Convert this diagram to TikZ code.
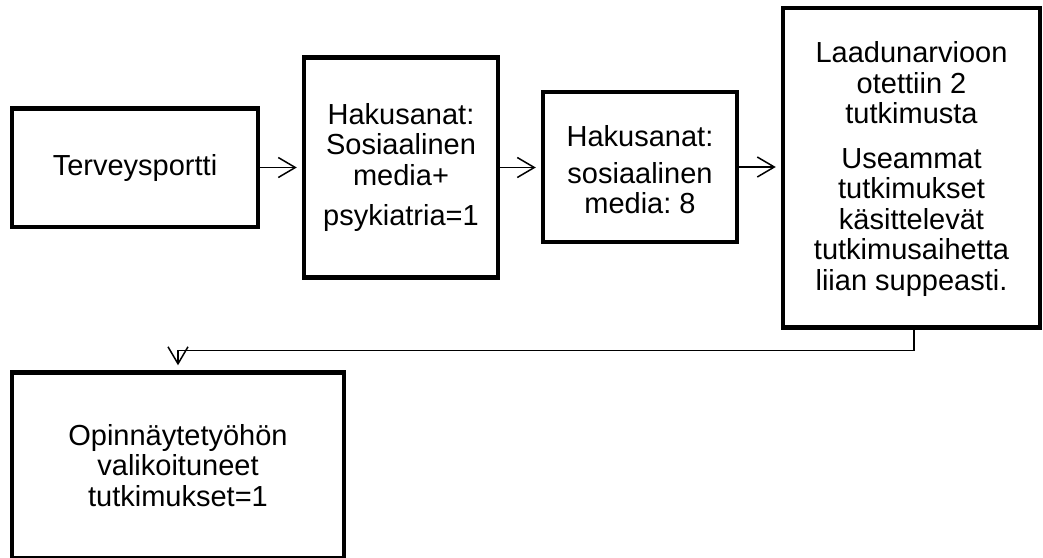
\documentclass[tikz,border=0pt]{standalone}
\usepackage{fontspec}
\setmainfont{Liberation Sans}
\usepackage{tikz}
\usetikzlibrary{calc,arrows.meta}

\begin{document}
\begin{tikzpicture}[x=1pt,y=-1pt,
  box/.style={draw, line width=4.5pt, inner sep=2pt, align=center,
    font=\fontsize{29pt}{30.5pt}\selectfont\frenchspacing},
  flow/.style={-{Straight Barb[length=17pt,width=20pt]}, line width=1.5pt, shorten >=5pt}]

\useasboundingbox (0,0) rectangle (1043,557);

% boxes
\node at (135,167.5) [box, minimum width=246pt, minimum height=118.5pt] (b1) {Terveysportti};
\node at (401,167.5) [box, minimum width=194pt, minimum height=220pt] (b2) {Hakusanat:\\Sosiaalinen\\media+\\[10pt]psykiatria=1};
\node at (640,167) [box, minimum width=194pt, minimum height=150pt] (b3) {\rule{0pt}{27pt}Hakusanat:\\[6pt]sosiaalinen\\media: 8};
\node at (911.5,167.75) [box, minimum width=257pt, minimum height=319.5pt] (b4) {\rule{0pt}{24pt}Laadunarvioon\\otettiin 2\\tutkimusta\\[14pt]Useammat\\tutkimukset\\käsittelevät\\tutkimusaihetta\\liian suppeasti.};
\node at (178,465.5) [box, minimum width=332pt, minimum height=186pt] (b5) {Opinnäytetyöhön\\valikoituneet\\tutkimukset=1};

% arrows
\draw[flow] (b1.east) -- (b2.west |- b1.east);
\draw[flow] (b2.east) -- (b3.west |- b2.east);
\draw[flow] (b3.east) -- (b4.west |- b3.east);
\draw[flow] ([xshift=2.5pt]b4.south) -- ++(0,20.5) -| (b5.north);

\end{tikzpicture}
\end{document}
